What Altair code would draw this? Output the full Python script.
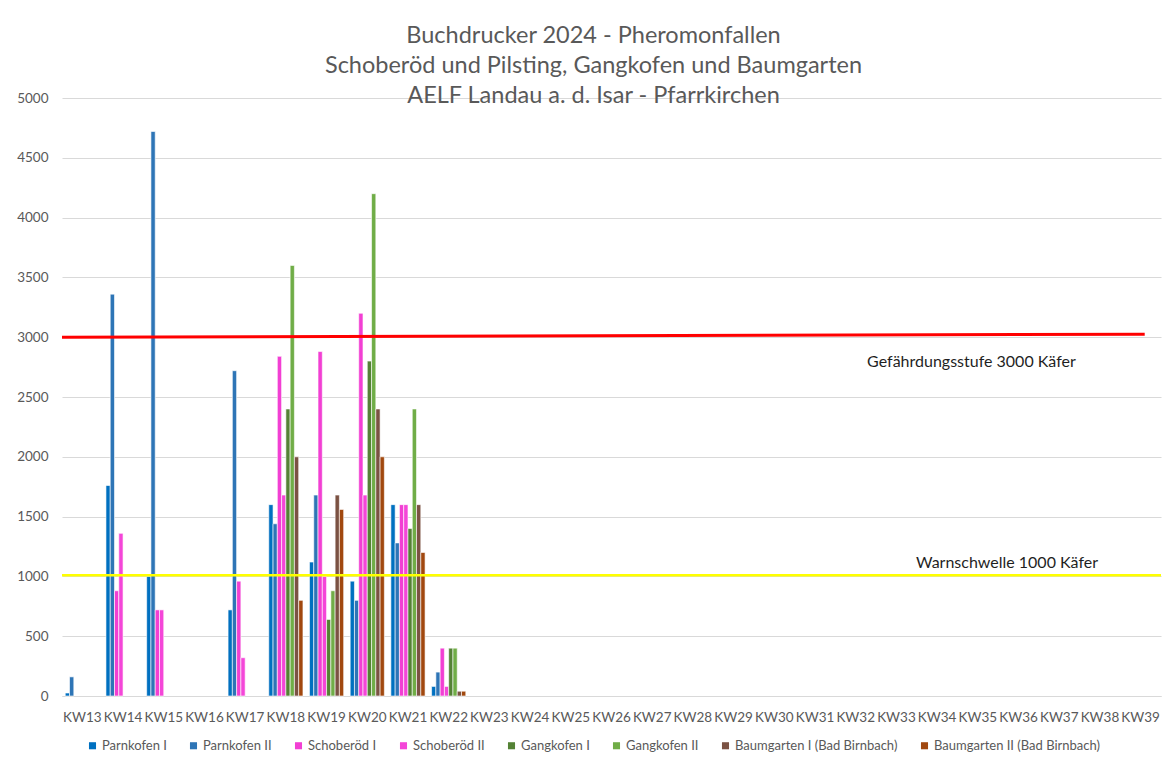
import altair as alt
import pandas as pd

weeks = [f"KW{i}" for i in range(13, 40)]
series = ["Parnkofen I", "Parnkofen II", "Schoberöd I", "Schoberöd II",
          "Gangkofen I", "Gangkofen II", "Baumgarten I (Bad Birnbach)",
          "Baumgarten II (Bad Birnbach)"]
colors = ["#0070C0", "#2E75B6", "#F23FD3", "#F446D8", "#548235", "#70AD47",
          "#7B5243", "#A1480F"]

# values for KW13 .. KW22 (later weeks are empty)
parnkofen_1 = [25, 1760, 1000, 0, 720, 1600, 1120, 960, 1600, 80]
parnkofen_2 = [160, 3360, 4720, 0, 2720, 1440, 1680, 800, 1280, 200]
schoberoed_1 = [0, 880, 720, 0, 960, 2840, 2880, 3200, 1600, 400]
schoberoed_2 = [0, 1360, 720, 0, 320, 1680, 1000, 1680, 1600, 80]
gangkofen_1 = [0, 0, 0, 0, 0, 2400, 640, 2800, 1400, 400]
gangkofen_2 = [0, 0, 0, 0, 0, 3600, 880, 4200, 2400, 400]
baumgarten_1 = [0, 0, 0, 0, 0, 2000, 1680, 2400, 1600, 40]
baumgarten_2 = [0, 0, 0, 0, 0, 800, 1560, 2000, 1200, 40]

all_values = [parnkofen_1, parnkofen_2, schoberoed_1, schoberoed_2,
              gangkofen_1, gangkofen_2, baumgarten_1, baumgarten_2]

rows = []
for s, vals in zip(series, all_values):
    for w, v in zip(weeks, vals):
        if v > 0:
            rows.append({"week": w, "series": s, "value": v})
bars_df = pd.DataFrame(rows)

# threshold lines (x in category units along the axis)
red_x = [0, 26.6]
red_y = [3000, 3025]
yellow_x = [0, 27]
yellow_y = [1010, 1010]
red_df = pd.DataFrame({"x": red_x, "y": red_y})
yellow_df = pd.DataFrame({"x": yellow_x, "y": yellow_y})

labels_df = pd.DataFrame({
    "x": [19.78, 20.98],
    "y": [2790, 1112],
    "text": ["Gefährdungsstufe 3000 Käfer", "Warnschwelle 1000 Käfer"],
})

FONT = "Lato"
GREY = "#595959"

yscale = alt.Scale(domain=[0, 5000], nice=False)

bars = alt.Chart(bars_df).mark_bar(stroke="white", strokeWidth=0.6).encode(
    x=alt.X("week:N", sort=weeks, scale=alt.Scale(domain=weeks, paddingInner=0.16, paddingOuter=0.08),
            axis=alt.Axis(title=None, labelAngle=0, ticks=False, domainColor="#d9d9d9",
                          labelColor=GREY, labelFontSize=13.5, labelPadding=14, labelFont=FONT, grid=False)),
    xOffset=alt.XOffset("series:N", sort=series, scale=alt.Scale(domain=series, paddingInner=0)),
    y=alt.Y("value:Q", scale=yscale,
            axis=alt.Axis(title=None, values=list(range(0, 5001, 500)), format="d", ticks=False, domain=False,
                          labelColor=GREY, labelFontSize=13.5, labelPadding=14, labelFont=FONT,
                          gridColor="#d9d9d9", gridWidth=1)),
    color=alt.Color("series:N", sort=series,
                    scale=alt.Scale(domain=series, range=colors),
                    legend=alt.Legend(title=None, orient="none", direction="horizontal", columns=8,
                                      legendX=24, legendY=641, symbolType="square", symbolSize=50,
                                      symbolStrokeWidth=0, labelFontSize=13, labelColor=GREY,
                                      labelFont=FONT, columnPadding=20, labelOffset=3, labelLimit=300)),
)

xq = alt.Scale(domain=[0, 27], nice=False, zero=False)

red = alt.Chart(red_df).mark_line(color="#FF0000", strokeWidth=3).encode(
    x=alt.X("x:Q", scale=xq, axis=None),
    y=alt.Y("y:Q", scale=yscale),
)
yellow = alt.Chart(yellow_df).mark_line(color="#FFFF00", strokeWidth=2.5).encode(
    x=alt.X("x:Q", scale=xq, axis=None),
    y=alt.Y("y:Q", scale=yscale),
)
texts = alt.Chart(labels_df).mark_text(align="left", baseline="middle", fontSize=16,
                                         font=FONT, color="#1f1f1f").encode(
    x=alt.X("x:Q", scale=xq, axis=None),
    y=alt.Y("y:Q", scale=yscale),
    text="text:N",
)

chart = alt.layer(bars, yellow, red, texts).resolve_scale(x="independent").properties(
    width=1099,
    height=598,
    autosize=alt.AutoSizeParams(type="none"),
    padding={"left": 54, "top": 90, "right": 2, "bottom": 58},
    title=alt.TitleParams(
        text=["Buchdrucker 2024 - Pheromonfallen",
              "Schoberöd und Pilsting, Gangkofen und Baumgarten",
              "AELF Landau a. d. Isar - Pfarrkirchen"],
        fontSize=23.5, font=FONT, fontWeight="normal", color=GREY, anchor="middle",
        lineHeight=30, dx=-18, offset=-40, baseline="bottom",
    ),
).configure_view(strokeWidth=0)

chart.save("out.html", embed_options={"renderer": "svg", "actions": False})
